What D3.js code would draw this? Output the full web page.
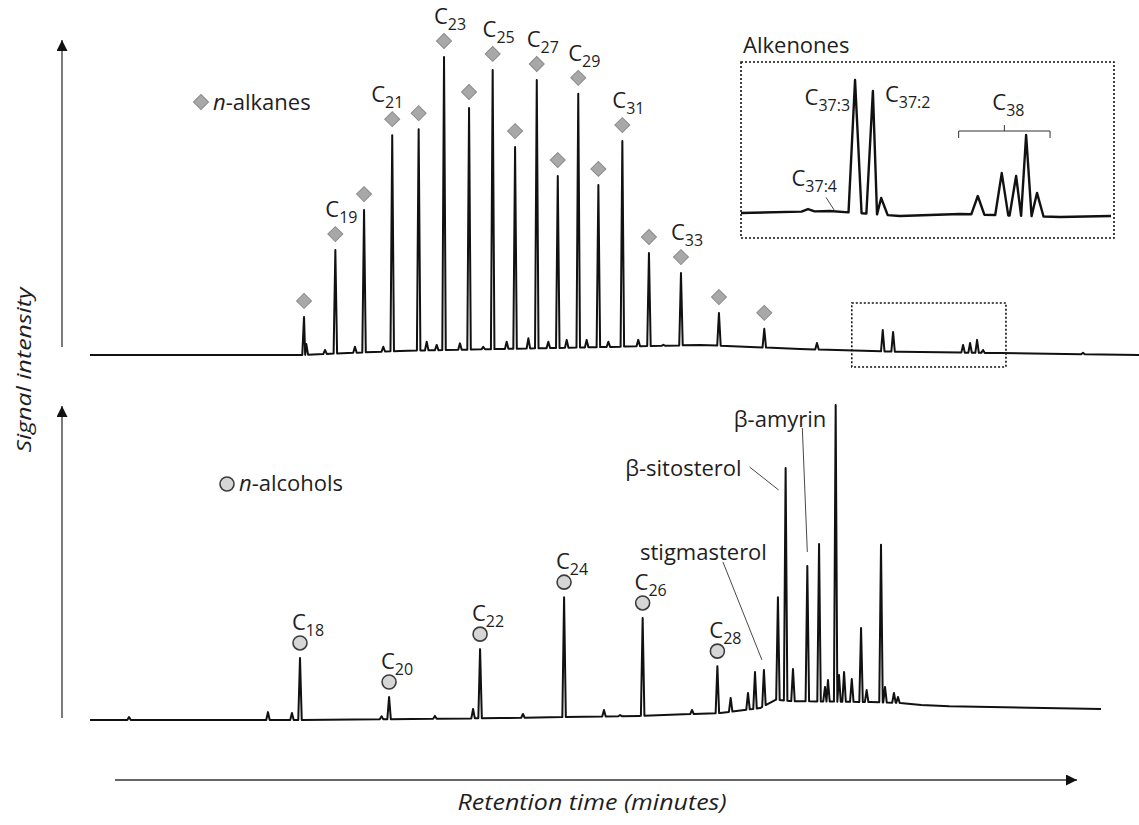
<!DOCTYPE html>
<html>
<head>
<meta charset="utf-8">
<script src="https://cdn.jsdelivr.net/npm/d3@7"></script>
<style>
	body { margin: 0; background: #fff; }
	svg { display: block; }
	text { font-family: "Open Sans", sans-serif; fill: #1e1e1e; }
</style>
</head>
<body>
<svg id="chart" width="1139" height="825"></svg>
<script>
'use strict';

// GC traces of two lipid fractions: n-alkanes (upper) and alcohols (lower).
// Retention time in minutes, signal in % of each panel's full scale.

// ----------------------- data -----------------------------------------

// upper trace - n-alkanes
const alkaneCarbons = [18, 19, 20, 21, 22, 23, 24, 25, 26, 27, 28, 29, 30, 31, 32, 33, 34, 35];
const alkaneRt = [12.23, 14.02, 15.66, 17.27, 18.78, 20.23, 21.66, 23.01, 24.29, 25.53, 26.73, 27.90, 29.05, 30.42, 31.94, 33.77, 35.94, 38.53];
const alkaneSignal = [12.1, 33.3, 46.0, 69.8, 71.7, 94.6, 78.4, 90.5, 66.0, 87.3, 56.8, 82.9, 54.0, 67.9, 32.4, 26.0, 13.3, 8.3];
const alkaneLabelled = [19, 21, 23, 25, 27, 29, 31, 33];

const upperMinorRt = [12.36, 13.43, 15.14, 16.76, 19.24, 19.81, 21.14, 22.47, 23.81, 25.05, 26.19, 27.24, 28.38, 29.62, 31.33, 32.76, 41.54, 45.30, 45.89, 49.89, 50.29, 50.69, 51.03, 56.74];
const upperMinorSignal = [3.5, 1.6, 2.6, 2.6, 4.2, 3.2, 3.7, 2.6, 4.2, 5.3, 4.2, 4.8, 4.8, 4.2, 4.8, 3.2, 3.8, 7.9, 7.3, 3.2, 3.8, 4.8, 1.6, 0.7];

const upperBaseRt = [0, 12, 17.71, 23.43, 29.14, 34.86, 40.57, 46.29, 52, 60];
const upperBaseSignal = [0, 0, 1.3, 1.9, 2.5, 3.2, 1.9, 1.0, 0.6, 0];

// window of the upper trace that is blown up in the inset
const zoomWindowRt = [43.53, 52.34];
const zoomWindowSignal = [-3.8, 16.5];

// inset - alkenones
const insetRt = [45.54, 46.62, 47.03, 47.22, 49.44, 49.99, 50.32, 50.55, 50.80];
const insetSignal = [6.4, 98.6, 90.7, 14.3, 15.7, 32.1, 30.0, 59.3, 17.9];
const insetBaseRt = [44, 46.04, 47.65, 49.03, 51.33, 52.5];
const insetBaseSignal = [3.6, 5.0, 1.4, 2.9, 0.7, 1.4];
const alkenoneC37Labels = ['37:4', '37:3', '37:2'];
const alkenoneC37Rt = [46.16, 46.62, 47.03];
const alkenoneC38Range = [49.0, 51.1];

// lower trace - alcohols
const alcoholCarbons = [18, 20, 22, 24, 26, 28];
const alcoholRt = [12.0, 17.09, 22.29, 27.09, 31.58, 35.85];
const alcoholSignal = [19.7, 7.3, 22.5, 39.0, 32.4, 17.1];

const lowerOtherRt = [2.23, 10.17, 11.54, 16.66, 19.71, 21.89, 24.74, 29.37, 30.29, 34.4, 36.61, 37.6, 38.0, 38.51, 39.31, 39.75, 40.17, 40.99, 41.66, 42.0, 42.17, 42.61, 42.8, 43.09, 43.53, 44.06, 44.38, 45.2, 45.43, 45.94, 46.17];
const lowerOtherSignal = [0.95, 2.5, 2.2, 1.2, 1.3, 3.5, 1.9, 3.2, 1.6, 3.2, 7.0, 8.6, 15.2, 15.9, 39.0, 80.0, 16.2, 48.9, 55.9, 10.5, 12.7, 100, 14.3, 15.2, 13.0, 29.2, 9.5, 55.6, 10.5, 8.6, 7.3];

const lowerBaseRt = [0, 12, 23.4, 31.4, 36, 38.3, 39.2, 40, 44.6, 46.3, 47.5, 49.1, 57.77];
const lowerBaseSignal = [0, 0, 0.6, 1.3, 2.2, 3.8, 6.5, 6.0, 5.7, 5.4, 4.8, 4.4, 3.5];

const sterolNames = ['stigmasterol', 'β-sitosterol', 'β-amyrin'];
const sterolRt = [38.51, 39.75, 40.99];

// ----------------------- layout ---------------------------------------

const svg = d3.select('#chart');

const xMain = d3.scaleLinear().domain([0, 60]).range([90, 1140]);
const yUpper = d3.scaleLinear().domain([0, 100]).range([355, 40]);
const yLower = d3.scaleLinear().domain([0, 100]).range([720, 405]);
const xInset = d3.scaleLinear().domain([44, 52.5]).range([741, 1111]);
const yInset = d3.scaleLinear().domain([0, 100]).range([218, 78]);

const INK = '#111';
const DIAMOND = { fill: '#a8a8a8', stroke: '#8a8a8a', size: 112 };
const CIRCLE = { fill: '#d6d6d6', stroke: '#3c3c3c', r: 7 };
const LABEL_PX = 22, SUB_PX = 16;

// ----------------------- helpers --------------------------------------

function baseScale(rts, sig) {
	return d3.scaleLinear().domain(rts).range(sig).clamp(true);
}

// Peaks are drawn as narrow triangles sitting on the drifting baseline.
function tracePoints(rts, sigs, baseRt, baseSig, hw) {
	const base = baseScale(baseRt, baseSig);
	const peaks = d3.zip(rts, sigs).sort((a, b) => a[0] - b[0]);
	const pts = [], windows = [];
	peaks.forEach(([rt, s], i) => {
		const prev = i > 0 ? peaks[i - 1][0] : -Infinity;
		const next = i < peaks.length - 1 ? peaks[i + 1][0] : Infinity;
		const l = Math.max(rt - hw, (prev + rt) / 2);
		const r = Math.min(rt + hw, (rt + next) / 2);
		windows.push([l, r]);
		pts.push([l, base(l)], [rt, Math.max(s, base(rt) + 0.3)], [r, base(r)]);
	});
	baseRt.forEach((t, i) => {
		if (!windows.some(([l, r]) => t >= l && t <= r)) pts.push([t, baseSig[i]]);
	});
	return pts.sort((a, b) => a[0] - b[0]);
}

function drawTrace(pts, x, y, width) {
	const line = d3.line().x((d) => x(d[0])).y((d) => y(d[1]));
	svg.append('path')
		.attr('d', line(pts))
		.attr('fill', 'none')
		.attr('stroke', INK)
		.attr('stroke-width', width)
		.attr('stroke-linejoin', 'round');
}

function cLabel(x, y, sub, anchor) {
	const t = svg.append('text')
		.attr('x', x).attr('y', y)
		.attr('text-anchor', anchor || 'middle')
		.style('font-size', LABEL_PX + 'px');
	t.append('tspan').text('C');
	t.append('tspan').attr('dy', 6).style('font-size', SUB_PX + 'px').text(sub);
	return t;
}

function leader(x1, y1, x2, y2) {
	svg.append('line')
		.attr('x1', x1).attr('y1', y1).attr('x2', x2).attr('y2', y2)
		.attr('stroke', '#333').attr('stroke-width', 0.9);
}

function diamond(x, y) {
	svg.append('path')
		.attr('d', d3.symbol(d3.symbolSquare, DIAMOND.size)())
		.attr('transform', `translate(${x},${y}) rotate(45)`)
		.attr('fill', DIAMOND.fill)
		.attr('stroke', DIAMOND.stroke)
		.attr('stroke-width', 1);
}

function ring(x, y) {
	svg.append('circle')
		.attr('cx', x).attr('cy', y).attr('r', CIRCLE.r)
		.attr('fill', CIRCLE.fill)
		.attr('stroke', CIRCLE.stroke)
		.attr('stroke-width', 1.6);
}

// ----------------------- axes (arrows only) ---------------------------

svg.append('defs').append('marker')
	.attr('id', 'head')
	.attr('viewBox', '0 0 10 10')
	.attr('refX', 10).attr('refY', 5)
	.attr('markerUnits', 'userSpaceOnUse')
	.attr('markerWidth', 12).attr('markerHeight', 11)
	.attr('orient', 'auto')
	.append('path').attr('d', 'M0,0L10,5L0,10Z').attr('fill', INK);

function arrow(x1, y1, x2, y2) {
	svg.append('line')
		.attr('x1', x1).attr('y1', y1).attr('x2', x2).attr('y2', y2)
		.attr('stroke', '#333').attr('stroke-width', 1.3)
		.attr('marker-end', 'url(#head)');
}

arrow(62, 347, 62, 40);
arrow(62, 718, 62, 406);
arrow(115, 780, 1077, 780);

svg.append('text')
	.attr('transform', 'translate(31,370) rotate(-90)')
	.attr('text-anchor', 'middle')
	.attr('textLength', 165).attr('lengthAdjust', 'spacingAndGlyphs')
	.style('font-size', '20px').style('font-style', 'italic')
	.text('Signal intensity');

svg.append('text')
	.attr('x', 592).attr('y', 810)
	.attr('text-anchor', 'middle')
	.attr('textLength', 269).attr('lengthAdjust', 'spacingAndGlyphs')
	.style('font-size', '22px').style('font-style', 'italic')
	.text('Retention time (minutes)');

// ----------------------- upper panel ----------------------------------

drawTrace(
	tracePoints(alkaneRt.concat(upperMinorRt), alkaneSignal.concat(upperMinorSignal), upperBaseRt, upperBaseSignal, 0.1),
	xMain, yUpper, 2);

const labelNudgeX = { 21: -11 };
alkaneCarbons.forEach((c, i) => {
	const x = xMain(alkaneRt[i]);
	const dy = yUpper(alkaneSignal[i]) - 16;
	diamond(x, dy);
	if (alkaneLabelled.includes(c)) cLabel(x + 6 + (labelNudgeX[c] || 0), dy - 17, String(c));
});

// legend
diamond(201, 102);
const leg1 = svg.append('text').attr('x', 213).attr('y', 110).style('font-size', '22px');
leg1.append('tspan').style('font-style', 'italic').text('n');
leg1.append('tspan').text('-alkanes');

// zoom window
svg.append('rect')
	.attr('x', xMain(zoomWindowRt[0]))
	.attr('y', yUpper(zoomWindowSignal[1]))
	.attr('width', xMain(zoomWindowRt[1]) - xMain(zoomWindowRt[0]))
	.attr('height', yUpper(zoomWindowSignal[0]) - yUpper(zoomWindowSignal[1]))
	.attr('fill', 'none').attr('stroke', INK)
	.attr('stroke-width', 1.6).attr('stroke-dasharray', '2,2');

// ----------------------- inset ----------------------------------------

svg.append('rect')
	.attr('x', 741).attr('y', 62).attr('width', 373).attr('height', 176)
	.attr('fill', '#fff').attr('stroke', INK)
	.attr('stroke-width', 1.6).attr('stroke-dasharray', '2,2');

svg.append('text').attr('x', 743).attr('y', 53).style('font-size', '22px').text('Alkenones');

drawTrace(
	tracePoints(insetRt, insetSignal, insetBaseRt, insetBaseSignal, 0.15),
	xInset, yInset, 2.4);

{
	const base = baseScale(insetBaseRt, insetBaseSignal);
	// C37:4 - no resolved peak, leader points at the baseline
	const x4 = xInset(alkenoneC37Rt[0]), y4 = yInset(base(alkenoneC37Rt[0]));
	cLabel(x4 + 2, y4 - 25, alkenoneC37Labels[0], 'end');
	leader(x4 - 9, y4 - 14, x4, y4);
	// C37:3, C37:2
	const s3 = insetSignal[insetRt.indexOf(alkenoneC37Rt[1])];
	const s2 = insetSignal[insetRt.indexOf(alkenoneC37Rt[2])];
	cLabel(xInset(alkenoneC37Rt[1]) - 5, yInset(s3) + 25, alkenoneC37Labels[1], 'end');
	cLabel(xInset(alkenoneC37Rt[2]) + 12, yInset(s2) + 11, alkenoneC37Labels[2], 'start');
	// C38 bracket
	const bx0 = xInset(alkenoneC38Range[0]), bx1 = xInset(alkenoneC38Range[1]);
	const bm = (bx0 + bx1) / 2, by = 131;
	svg.append('path')
		.attr('d', `M${bx0},${by + 7}V${by}H${bx1}V${by + 7}M${bm},${by}V${by - 6}`)
		.attr('fill', 'none').attr('stroke', '#333').attr('stroke-width', 1);
	cLabel(bm + 4, by - 21, '38');
}

// ----------------------- lower panel ----------------------------------

drawTrace(
	tracePoints(alcoholRt.concat(lowerOtherRt), alcoholSignal.concat(lowerOtherSignal), lowerBaseRt, lowerBaseSignal, 0.1),
	xMain, yLower, 2);

alcoholCarbons.forEach((c, i) => {
	const x = xMain(alcoholRt[i]);
	const cy = yLower(alcoholSignal[i]) - 15;
	ring(x, cy);
	cLabel(x + 8, cy - 13, String(c));
});

ring(227, 484);
const leg2 = svg.append('text').attr('x', 239).attr('y', 491).style('font-size', '22px');
leg2.append('tspan').style('font-style', 'italic').text('n');
leg2.append('tspan').text('-alcohols');

// sterol annotations: [text dx, text dy, anchor, leader x1, y1, x2, y2] relative to peak apex
const sterolLayout = [
	[3, -110, 'end', -41, -108, -2, -10],
	[-44, 8, 'end', -36, -1, -7, 22],
	[19, -139, 'end', -5, -138, 0, -14]
];
sterolNames.forEach((name, i) => {
	const rt = sterolRt[i];
	const s = lowerOtherSignal[lowerOtherRt.indexOf(rt)];
	const px = xMain(rt), py = yLower(s);
	const [tx, ty, anchor, lx1, ly1, lx2, ly2] = sterolLayout[i];
	svg.append('text')
		.attr('x', px + tx).attr('y', py + ty)
		.attr('text-anchor', anchor)
		.style('font-size', '22px')
		.text(name);
	leader(px + lx1, py + ly1, px + lx2, py + ly2);
});
</script>
</body>
</html>
